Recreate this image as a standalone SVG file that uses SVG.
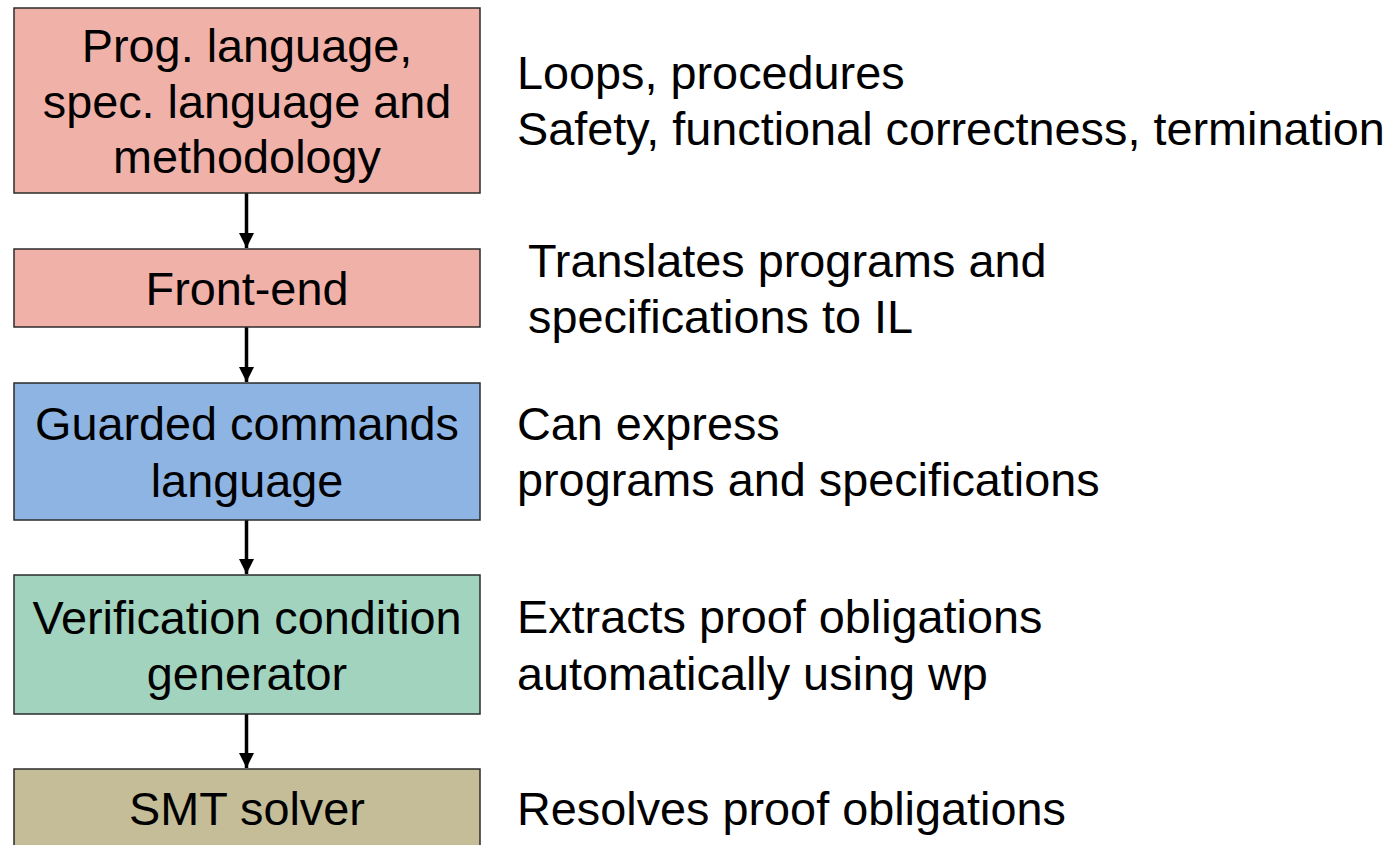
<svg xmlns="http://www.w3.org/2000/svg" width="1389" height="845" viewBox="0 0 1389 845">
<style>
.box{stroke:#2b2b2b;stroke-width:1.5}
.t{font-family:"Liberation Sans",Arial,sans-serif;font-size:46.8px;fill:#000}
.c{text-anchor:middle}
.conn{stroke:#000;stroke-width:3.5;fill:none}
</style>
<defs>
<marker id="ah" viewBox="0 0 10 10" refX="10" refY="5" markerWidth="4.3" markerHeight="4.3" orient="auto" markerUnits="strokeWidth">
<path d="M0,0 L10,5 L0,10 Z" fill="#000"/>
</marker>
</defs>
<rect width="1389" height="845" fill="#fff"/>
<g id="connectors">
<line class="conn" x1="246.5" y1="193" x2="246.5" y2="248" marker-end="url(#ah)"/>
<line class="conn" x1="246.5" y1="327" x2="246.5" y2="382" marker-end="url(#ah)"/>
<line class="conn" x1="246.5" y1="520" x2="246.5" y2="574" marker-end="url(#ah)"/>
<line class="conn" x1="246.5" y1="714" x2="246.5" y2="768" marker-end="url(#ah)"/>
</g>
<g id="n1">
<rect class="box" x="14" y="8" width="466" height="185" fill="#F0B1A8"/>
<text class="t c" x="247" y="62">Prog. language,</text>
<text class="t c" x="247" y="118">spec. language and</text>
<text class="t c" x="247" y="173">methodology</text>
</g>
<g id="n2">
<rect class="box" x="14" y="249" width="466" height="78" fill="#F0B1A8"/>
<text class="t c" x="247" y="305">Front-end</text>
</g>
<g id="n3">
<rect class="box" x="14" y="383" width="466" height="137" fill="#8EB4E3"/>
<text class="t c" x="247" y="440">Guarded commands</text>
<text class="t c" x="247" y="497">language</text>
</g>
<g id="n4">
<rect class="box" x="14" y="575" width="466" height="139" fill="#A2D3BE"/>
<text class="t c" x="247" y="634">Verification condition</text>
<text class="t c" x="247" y="690">generator</text>
</g>
<g id="n5">
<rect class="box" x="14" y="769" width="466" height="90" fill="#C4BD97"/>
<text class="t c" x="247" y="825">SMT solver</text>
</g>
<g id="labels">
<text class="t" x="517" y="89">Loops, procedures</text>
<text class="t" x="517" y="145">Safety, functional correctness, termination</text>
<text class="t" x="528" y="277">Translates programs and</text>
<text class="t" x="528" y="333">specifications to IL</text>
<text class="t" x="517" y="440">Can express</text>
<text class="t" x="517" y="496">programs and specifications</text>
<text class="t" x="517" y="633">Extracts proof obligations</text>
<text class="t" x="517" y="690">automatically using wp</text>
<text class="t" x="517" y="825">Resolves proof obligations</text>
</g>
</svg>
